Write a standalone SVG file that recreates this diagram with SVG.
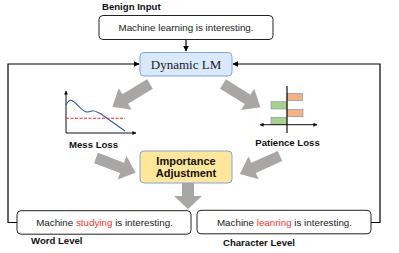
<svg xmlns="http://www.w3.org/2000/svg" xmlns:xlink="http://www.w3.org/1999/xlink" width="399" height="253" viewBox="0 0 399 253">
<style>
.t{font-family:"Liberation Sans",Arial,sans-serif;font-size:9.8px;fill:#1a1a1a}
.b{font-family:"Liberation Sans",Arial,sans-serif;font-size:9.6px;font-weight:bold;fill:#111}
.box{fill:#fff;stroke:#222;stroke-width:1}
.red{fill:#ff3030}
.ln{fill:none;stroke:#000;stroke-width:1.2}
.ga{fill:#a9a6a6}
.ax{fill:none;stroke:#111;stroke-width:1}
</style>
<defs>
<marker id="ah" viewBox="0 0 10 10" refX="9" refY="5" markerWidth="6" markerHeight="6" markerUnits="userSpaceOnUse" orient="auto">
<path d="M0,0 L10,5 L0,10 Z" fill="#000"/>
</marker>
<marker id="sa" viewBox="0 0 10 10" refX="9" refY="5" markerWidth="4" markerHeight="4" markerUnits="userSpaceOnUse" orient="auto-start-reverse">
<path d="M0,0 L10,5 L0,10 Z" fill="#111"/>
</marker>
<path id="ba" d="M0,-5.5 H29 V-12.5 L44,0 L29,12.5 V5.5 H0 Z"/>
</defs>

<g id="connectors">
<path class="ln" d="M186,39 V51" marker-end="url(#ah)"/>
<path class="ln" d="M17,222.5 H8 V64 H139" marker-end="url(#ah)"/>
<path class="ln" d="M371,222.5 H380 V64 H233" marker-end="url(#ah)"/>
<use xlink:href="#ba" class="ga" transform="translate(150,84) rotate(148.8)"/>
<use xlink:href="#ba" class="ga" transform="translate(223,84) rotate(31.9)"/>
<use xlink:href="#ba" class="ga" transform="translate(96,158) rotate(20.6) scale(0.96,1)"/>
<use xlink:href="#ba" class="ga" transform="translate(280,156) rotate(155.8)"/>
<path class="ga" d="M182,183 H194 V196 H202 L188,209 L174,196 H182 Z"/>
</g>

<g id="benign-input">
<text class="b" x="102" y="10">Benign Input</text>
<rect class="box" x="99" y="15.5" width="174" height="24" rx="4"/>
<text class="t" x="186" y="31" text-anchor="middle">Machine learning is interesting.</text>
</g>

<g id="dynamic-lm">
<rect x="140" y="52.5" width="92" height="23.5" rx="4" fill="#dae8fc" stroke="#7ea6e0" stroke-width="1"/>
<text x="186" y="68.5" text-anchor="middle" font-family="'Liberation Serif','Times New Roman',serif" font-size="13" fill="#1a1a1a">Dynamic LM</text>
</g>

<g id="mess-loss">
<path class="ax" d="M66,133 V91" marker-end="url(#sa)"/>
<path class="ax" d="M66,133 H136" marker-end="url(#sa)"/>
<path d="M66,105 C68,101 70,99.5 72,100.5 C77,103 81,111 87,112 C90,112.5 91,110.5 93,110.8 C96,111 98,112.5 101,114 L125,131" fill="none" stroke="#2e56b0" stroke-width="1.1"/>
<path d="M66,118.3 H125" fill="none" stroke="#ff2020" stroke-width="1.1" stroke-dasharray="3,1.5"/>
<text class="b" x="93.5" y="148" text-anchor="middle">Mess Loss</text>
</g>

<g id="patience-loss">
<rect x="287" y="93.3" width="15.5" height="7.4" fill="#f4b183" stroke="#7f8fb0" stroke-width="0.6"/>
<rect x="271" y="101.7" width="16" height="7.3" fill="#a9d18e" stroke="#7f8fb0" stroke-width="0.6"/>
<rect x="287" y="109.3" width="16" height="7.4" fill="#f4b183" stroke="#7f8fb0" stroke-width="0.6"/>
<rect x="271" y="117.3" width="16" height="7.2" fill="#a9d18e" stroke="#7f8fb0" stroke-width="0.6"/>
<path class="ax" d="M260,124.7 H317" marker-start="url(#sa)" marker-end="url(#sa)"/>
<path d="M287,86 V133" fill="none" stroke="#111" stroke-width="1.2"/>
<text class="b" x="287.5" y="145.5" text-anchor="middle">Patience Loss</text>
</g>

<g id="importance-adjustment">
<rect x="140" y="151" width="92" height="32" rx="4" fill="#ffe699" stroke="#7ea6e0" stroke-width="1"/>
<text x="186" y="165" text-anchor="middle" font-family="'Liberation Sans',Arial,sans-serif" font-size="11" font-weight="bold" fill="#111">Importance</text>
<text x="186" y="177" text-anchor="middle" font-family="'Liberation Sans',Arial,sans-serif" font-size="11" font-weight="bold" fill="#111">Adjustment</text>
</g>

<g id="word-level">
<rect class="box" x="17" y="210.7" width="174" height="23.5" rx="4"/>
<text class="t" x="104.5" y="225.7" text-anchor="middle">Machine <tspan class="red">studying</tspan> is interesting.</text>
<text class="b" x="31" y="244">Word Level</text>
</g>

<g id="character-level">
<rect class="box" x="197" y="210.3" width="174" height="23.5" rx="4"/>
<text class="t" x="284.5" y="225.5" text-anchor="middle">Machine <tspan class="red">leanring</tspan> is interesting.</text>
<text class="b" x="223" y="245.5">Character Level</text>
</g>
</svg>
